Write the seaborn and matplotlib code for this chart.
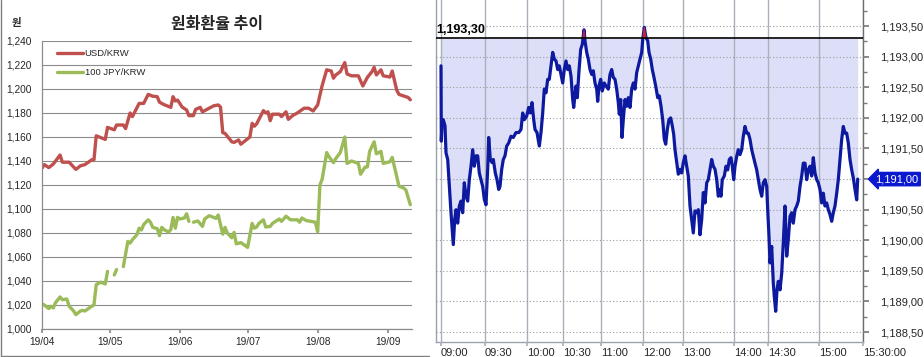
import numpy as np
import pandas as pd
import matplotlib
matplotlib.use("Agg")
import matplotlib.pyplot as plt
import matplotlib.dates as mdates
import matplotlib.transforms as mtransforms
from matplotlib.ticker import FuncFormatter, MultipleLocator
from matplotlib.lines import Line2D
import seaborn as sns

# ---------------- data: left chart (daily FX) ----------------
usd_dates = ["2019-04-01", "2019-04-02", "2019-04-04", "2019-04-06", "2019-04-09", "2019-04-10",
             "2019-04-13", "2019-04-16", "2019-04-18", "2019-04-20", "2019-04-23", "2019-04-24",
             "2019-04-25", "2019-04-29", "2019-04-30", "2019-05-03", "2019-05-04", "2019-05-07",
             "2019-05-08", "2019-05-10", "2019-05-11", "2019-05-14", "2019-05-16", "2019-05-18",
             "2019-05-20", "2019-05-22", "2019-05-23", "2019-05-25", "2019-05-28", "2019-05-29",
             "2019-05-30", "2019-05-31", "2019-06-02", "2019-06-04", "2019-06-05", "2019-06-07",
             "2019-06-08", "2019-06-10", "2019-06-11", "2019-06-14", "2019-06-16", "2019-06-18",
             "2019-06-19", "2019-06-20", "2019-06-21", "2019-06-24", "2019-06-25", "2019-06-27",
             "2019-06-28", "2019-06-30", "2019-07-02", "2019-07-03", "2019-07-04", "2019-07-05",
             "2019-07-08", "2019-07-09", "2019-07-10", "2019-07-11", "2019-07-12", "2019-07-15",
             "2019-07-16", "2019-07-18", "2019-07-19", "2019-07-21", "2019-07-23", "2019-07-26",
             "2019-07-28", "2019-07-30", "2019-08-01", "2019-08-03", "2019-08-05", "2019-08-07",
             "2019-08-08", "2019-08-09", "2019-08-11", "2019-08-13", "2019-08-14", "2019-08-16",
             "2019-08-19", "2019-08-21", "2019-08-23", "2019-08-25", "2019-08-26", "2019-08-27",
             "2019-08-29", "2019-08-30", "2019-09-02", "2019-09-03", "2019-09-05", "2019-09-06",
             "2019-09-09", "2019-09-10", "2019-09-11"]
usd_krw = [1134, 1137, 1134.5, 1137.5, 1145, 1139,
           1139, 1133, 1136, 1137, 1141, 1141,
           1161, 1158, 1168, 1166, 1170, 1170,
           1167, 1180, 1177, 1188, 1188, 1195.5,
           1194, 1193.6, 1189, 1187, 1184.7, 1193.6,
           1190, 1190.8, 1185, 1182.5, 1177.8, 1177.8,
           1183, 1184.7, 1181, 1184, 1186, 1186.7,
           1185, 1163.6, 1163, 1156, 1155.5, 1157.5,
           1154, 1157, 1160, 1171.4, 1169, 1171,
           1182, 1180, 1181, 1173.6, 1179, 1179,
           1177, 1181, 1174.7, 1178, 1180, 1184,
           1184, 1181.7, 1186.7, 1203, 1216, 1215,
           1209, 1211.7, 1214.4, 1222, 1212.5, 1211,
           1211, 1202.5, 1209.7, 1214.4, 1218, 1211.7,
           1216, 1211, 1210, 1215, 1199, 1195.5,
           1193.6, 1193, 1191]

jpy_dates = ["2019-04-01", "2019-04-02", "2019-04-04", "2019-04-05", "2019-04-06", "2019-04-07",
             "2019-04-09", "2019-04-10", "2019-04-12", "2019-04-13", "2019-04-15", "2019-04-16",
             "2019-04-18", "2019-04-19", "2019-04-20", "2019-04-23", "2019-04-24", "2019-04-25",
             "2019-04-27", "2019-04-29", "2019-04-30", "2019-05-02", "2019-05-03", "2019-05-04",
             "2019-05-06", "2019-05-07", "2019-05-09", "2019-05-10", "2019-05-11", "2019-05-13",
             "2019-05-14", "2019-05-15", "2019-05-16", "2019-05-18", "2019-05-19", "2019-05-20",
             "2019-05-22", "2019-05-23", "2019-05-24", "2019-05-25", "2019-05-27", "2019-05-28",
             "2019-05-29", "2019-05-30", "2019-05-31", "2019-06-01", "2019-06-03", "2019-06-04",
             "2019-06-05", "2019-06-06", "2019-06-07", "2019-06-09", "2019-06-11", "2019-06-12",
             "2019-06-14", "2019-06-16", "2019-06-17", "2019-06-18", "2019-06-20", "2019-06-21",
             "2019-06-22", "2019-06-24", "2019-06-25", "2019-06-26", "2019-06-28", "2019-06-30",
             "2019-07-01", "2019-07-03", "2019-07-04", "2019-07-05", "2019-07-06", "2019-07-08",
             "2019-07-09", "2019-07-11", "2019-07-12", "2019-07-15", "2019-07-16", "2019-07-18",
             "2019-07-20", "2019-07-23", "2019-07-24", "2019-07-25", "2019-07-27", "2019-07-29",
             "2019-07-31", "2019-08-01", "2019-08-02", "2019-08-03", "2019-08-05", "2019-08-06",
             "2019-08-08", "2019-08-09", "2019-08-11", "2019-08-13", "2019-08-14", "2019-08-16",
             "2019-08-19", "2019-08-20", "2019-08-22", "2019-08-23", "2019-08-24", "2019-08-26",
             "2019-08-27", "2019-08-29", "2019-08-30", "2019-09-02", "2019-09-03", "2019-09-06",
             "2019-09-08", "2019-09-09", "2019-09-11"]
jpy100_krw = [1021, 1020, 1017, 1019, 1017.5, 1022,
              1026.7, 1024.4, 1025, 1019, 1015, 1012,
              1015, 1015.5, 1015, 1019, 1020, 1037,
              1039, 1037.5, 1048, None, 1045, 1049.5,
              None, 1052, 1073, 1071.6, 1074.4, 1078.6,
              1084, 1082.5, 1087, 1091, 1089, 1084.7,
              1083.6, 1077.8, 1084.7, 1082.8, 1080.8, 1082.8,
              1093, 1084, 1093, 1091.7, 1092.5, 1096,
              1089.7, None, 1089, 1090, 1085.5, 1091.7,
              1094.4, 1093, 1092.2, 1095, 1079, 1084.7,
              1080, 1076, 1080.5, 1071, 1072, 1069.4,
              1068, 1088, 1084, 1085, 1088, 1091,
              1085, 1085.5, 1088, 1091.7, 1089.7, 1094,
              1091, 1091, 1089, 1092.5, 1090.3, 1089.7,
              1089, 1081, 1120, 1125, 1147, 1143.6,
              1138.6, 1142, 1147, 1160, 1138, 1140,
              1138, 1129, 1135, 1135, 1148, 1156,
              1146, 1148, 1138, 1139.4, 1143, 1119,
              1117.5, 1116, 1103.6]

series_names = ["USD/KRW", "100 JPY/KRW"]
y_ticks_left = list(range(1000, 1241, 20))

# ---------------- data: right chart (intraday USD/KRW) ----------------
intraday_pos = [0, 0.3, 1, 2.3, 4, 5, 6.7, 7.7, 9, 10, 11, 12.3, 13.7, 15, 16.7, 18.3, 20, 21.7, 23.3, 25,
                26.7, 28.3, 30, 31.7, 33.3, 35, 36.7, 38.3, 40, 41.7, 43.3, 45, 46.7, 47.7, 49.3, 51,
                52.3, 54.3, 56, 57.7, 59, 60.7, 62.3, 64, 65.7, 67.7, 70, 72.3, 75, 77.7, 80, 81.7,
                83.3, 85.7, 87.7, 89.3, 91, 92.7, 94, 96, 98.3, 100, 101.7, 103.3, 105, 106.7, 108.3,
                110, 111.7, 113.3, 115, 116.7, 118.3, 120, 121.7, 123.3, 125, 126.7, 128.3, 130,
                131.7, 132.7,
                135, 136.3, 138, 139.7, 141.3, 143, 144, 145.7, 147.3, 149, 150.7, 152.3, 154, 155.7,
                156.7, 158, 159.7, 161.3, 163.3, 165, 167.3, 169, 170.7, 172.3, 174, 175.7, 177.3,
                178.3, 179.7, 181, 182.3, 184, 185.7, 187.3, 189, 190.7, 192.3, 194, 195.7, 197.3,
                199, 200.7, 201.7, 203.3, 205, 206.7, 208, 209.7, 211.3, 213, 214.7, 216.7, 218.3,
                220, 221.7, 223.3, 224.7, 226.3, 228, 229.7, 231.3, 232.7, 234, 235.7, 237.3, 239,
                240.7, 242.3, 244, 245.7, 247.3, 249, 250.7, 252.3, 254, 255.7, 257.3, 259, 260.7,
                262.3, 264, 265.7, 267.3, 269, 270.7, 272.3, 274, 275.7, 277.3, 279,
                280, 281.3, 283.3, 285, 286.7, 288.3, 290, 291.3, 292.7, 294, 295.7, 297.3, 299,
                300.7, 302.3, 304, 305.7, 307.3, 309, 310.7, 312.3, 314, 315.7, 317.3, 319, 320.7,
                322.3, 324, 325.7, 326.7, 328, 329, 330.7, 332.3, 333.3, 334.7, 336, 337.3, 339,
                340.7, 342.3, 344, 345.7, 347.3, 349, 350.7, 352.3, 354, 355.7, 357.3, 359, 360.7,
                362.3, 364, 365.7, 367.3, 369, 370.7, 372.3, 374, 375.7, 377.3, 379, 380.7, 382.3,
                384, 385.7, 387.3, 389, 390.7, 392.3, 394, 395.7, 397.3, 399, 400.7, 402.3, 404,
                405.7, 407.3, 409, 410.7, 412.3, 414, 415.7, 416.7]
intraday_rate = [1192.85, 1191.62, 1191.92, 1191.97, 1191.87, 1191.43, 1191.32, 1191.05, 1190.72, 1190.45,
                 1190.23, 1189.93, 1190.34, 1190.50, 1190.28, 1190.56, 1190.64, 1190.45, 1190.94, 1190.72,
                 1190.64, 1190.99, 1191.21, 1191.48, 1191.21, 1191.38, 1191.38, 1191.10, 1190.99, 1190.88,
                 1190.67, 1190.58, 1191.16, 1191.68, 1191.32, 1191.27, 1191.32, 1191.10, 1190.99, 1190.83,
                 1190.88, 1191.16, 1191.32, 1191.38, 1191.54, 1191.59, 1191.70, 1191.68, 1191.76, 1191.76,
                 1191.81, 1192.08, 1191.97, 1192.03, 1192.17, 1192.08, 1192.25, 1191.97, 1191.81, 1191.76,
                 1191.54, 1191.76, 1192.08, 1192.47, 1192.41, 1192.63, 1192.63, 1192.85, 1193.07, 1192.96,
                 1192.93, 1192.79, 1192.85, 1192.71, 1192.57, 1192.79, 1192.93, 1192.79, 1192.85, 1192.68,
                 1192.30, 1192.17,
                 1192.52, 1192.33, 1192.77, 1193.12, 1193.20, 1193.44, 1193.26, 1193.07, 1192.96, 1192.79,
                 1192.71, 1192.77, 1192.57, 1192.47, 1192.27, 1192.52, 1192.63, 1192.44, 1192.57, 1192.52,
                 1192.47, 1192.71, 1192.79, 1192.66, 1192.63, 1192.47, 1192.25, 1192.06, 1192.30, 1191.68,
                 1191.97, 1192.30, 1192.19, 1192.33, 1192.17, 1192.47, 1192.57, 1192.47, 1192.74, 1192.85,
                 1192.96, 1193.07, 1193.28, 1193.48, 1193.31, 1193.26, 1193.07, 1192.96, 1192.79, 1192.66,
                 1192.52, 1192.33, 1192.36, 1192.19, 1191.97, 1191.65, 1191.57, 1191.81, 1191.97, 1192.00,
                 1191.87, 1191.73, 1191.48, 1191.27, 1191.08, 1191.16, 1191.10, 1191.27, 1191.38, 1191.21,
                 1191.05, 1190.56, 1190.34, 1190.12, 1190.48, 1190.45, 1190.50, 1190.09, 1190.34, 1190.78,
                 1190.61, 1190.94, 1190.99, 1191.16, 1191.32, 1191.21, 1191.16, 1190.99, 1190.72, 1190.83,
                 1190.72, 1190.99, 1191.05, 1191.21, 1191.15, 1191.32, 1191.35, 1191.21, 1190.99, 1191.21,
                 1191.37, 1191.48, 1191.40, 1191.48, 1191.70, 1191.86, 1191.75, 1191.75, 1191.65, 1191.48,
                 1191.37, 1191.26, 1191.15, 1190.99, 1190.83, 1190.72, 1190.94, 1190.99, 1190.88, 1190.50,
                 1190.06, 1189.63, 1189.90, 1189.30, 1189.08, 1188.84, 1189.19, 1189.33, 1189.19, 1189.46,
                 1189.96, 1190.56, 1189.74, 1190.01, 1190.39, 1190.45, 1190.28, 1190.50, 1190.56, 1190.64,
                 1190.88, 1191.05, 1191.26, 1191.26, 1190.99, 1191.15, 1191.21, 1191.05, 1191.35, 1191.10,
                 1190.99, 1190.94, 1190.83, 1190.61, 1190.77, 1190.56, 1190.61, 1190.50, 1190.42, 1190.31,
                 1190.45, 1190.56, 1190.77, 1190.99, 1191.32, 1191.65, 1191.86, 1191.75, 1191.75, 1191.59,
                 1191.32, 1191.15, 1191.02, 1190.83, 1190.66, 1191.00]
ref_level = 1193.30
last_rate = 1191.00
time_tick_pos = [0, 44, 86, 122, 160, 202, 242, 293, 327, 378, 422]
time_tick_labels = ["09:00", "09:30", "10:00", "10:30", "11:00", "12:00", "13:00",
                    "14:00", "14:30", "15:00", "15:30:00"]

# ---------------- style ----------------
sns.set_theme(style="white")
plt.rcParams['font.family'] = ['Liberation Sans', 'Noto Sans CJK KR', 'DejaVu Sans']
plt.rcParams['axes.unicode_minus'] = False

W, H = 924, 357
fig = plt.figure(figsize=(W / 100, H / 100), dpi=100)
fig.patch.set_facecolor('white')

RED = '#c0504d'
GREEN = '#9bbb59'

# ================= left chart =================
ax1 = fig.add_axes([42 / W, 28 / H, 370 / W, 288 / H])
df_usd = pd.DataFrame({"date": pd.to_datetime(usd_dates), "rate": usd_krw})
sns.lineplot(data=df_usd, x="date", y="rate", ax=ax1, color=RED, lw=2.4,
             label=series_names[0], estimator=None, sort=False)

df_jpy = pd.DataFrame({"date": pd.to_datetime(jpy_dates), "rate": jpy100_krw})
df_jpy["rate"] = pd.to_numeric(df_jpy["rate"])
seg = df_jpy["rate"].isna().cumsum()
first = True
for _, g in df_jpy.groupby(seg):
    g = g.dropna()
    if len(g) == 0:
        continue
    sns.lineplot(data=g, x="date", y="rate", ax=ax1, color=GREEN, lw=2.4,
                 label=series_names[1] if first else None, estimator=None, sort=False)
    first = False

ax1.set_ylim(1000, 1240)
ax1.set_xlim(pd.Timestamp("2019-04-01"), pd.Timestamp("2019-09-11 18:00"))
ax1.set_yticks(y_ticks_left)
ax1.yaxis.set_major_formatter(FuncFormatter(lambda v, p: f"{v:,.0f}"))
ax1.xaxis.set_major_locator(mdates.MonthLocator())
ax1.xaxis.set_major_formatter(mdates.DateFormatter("%y/%m"))
ax1.set_xlabel("")
ax1.set_ylabel("")
ax1.grid(axis='y', color='#8c8c8c', lw=0.8)
ax1.grid(axis='x', visible=False)
ax1.set_axisbelow(True)
for s in ['top', 'right']:
    ax1.spines[s].set_visible(False)
for s in ['left', 'bottom']:
    ax1.spines[s].set_color('#8c8c8c')
    ax1.spines[s].set_linewidth(0.9)
ax1.tick_params(axis='x', length=3, color='#8c8c8c', labelsize=7.3, pad=3, direction='out', bottom=True)
ax1.tick_params(axis='y', length=0, labelsize=7.3, pad=7.5)
leg = ax1.legend(loc='upper left', bbox_to_anchor=(0.04, 0.972), frameon=False, fontsize=6.8,
                 handlelength=2.75, handletextpad=0.2, labelspacing=1.1, borderpad=0,
                 borderaxespad=0)

fig.text(217 / W, 1 - 24 / H, "원화환율 추이", ha='center', va='center', fontsize=11.5,
         fontweight='bold', family=['Noto Sans CJK KR'])
fig.text(16 / W, 1 - 23 / H, "원", ha='center', va='center', fontsize=7.5,
         fontweight='bold', family=['Noto Sans CJK KR'])
# frame of left panel
fig.add_artist(Line2D([0.6 / W, 0.6 / W], [1, 1.2 / H], color='#7f7f7f', lw=1, transform=fig.transFigure))
fig.add_artist(Line2D([0.6 / W, 429 / W], [1.2 / H, 1.2 / H], color='#7f7f7f', lw=1, transform=fig.transFigure))

# ================= right chart =================
ax2 = fig.add_axes([436 / W, 15 / H, 427 / W, 342 / H])
x = np.array(intraday_pos)
y = np.array(intraday_rate)
ax2.set_xlim(-5, 422)
ax2.set_ylim(1188.338, 1193.926)

ax2.fill_between(x, y, ref_level, color='#dcdff7', lw=0, zorder=1)
for p in time_tick_pos:
    ax2.axvline(p, color='#a9b0bb', lw=1.0, zorder=1.5)
ax2.grid(axis='y', linestyle=(0, (1, 2)), color='#9a9a9a', lw=0.8)
ax2.grid(axis='x', visible=False)
ax2.set_axisbelow(False)
for gl in ax2.get_ygridlines():
    gl.set_zorder(1.6)

sns.lineplot(x=x, y=y, ax=ax2, color='#0d1aa0', lw=2.3, estimator=None, sort=False, zorder=3)
ax2.fill_between(x, ref_level, y, where=y > ref_level, interpolate=True, color='#c8262b',
                 lw=0.8, edgecolor='#c8262b', zorder=4)
ax2.axhline(ref_level, color='black', lw=1.2, zorder=5)
ax2.text(-4.5, ref_level + 0.03, f"{ref_level:,.2f}".replace('.', ','), ha='left', va='bottom',
         fontsize=9, fontweight='bold', color='black', zorder=6)

ax2.yaxis.tick_right()
ax2.set_yticks(np.arange(1188.5, 1193.51, 0.5))
ax2.yaxis.set_minor_locator(MultipleLocator(0.25))
ax2.yaxis.set_major_formatter(FuncFormatter(
    lambda v, p: "" if abs(v - last_rate) < 1e-6 else f"{v:,.2f}".replace('.', ',')))
ax2.tick_params(axis='y', which='major', right=True, left=False, length=4, color='#7a7a7a',
                labelsize=8, pad=8, direction='out')
ax2.tick_params(axis='y', which='minor', right=True, left=False, length=3, color='#7a7a7a',
                direction='out')
ax2.set_xticks(time_tick_pos)
ax2.set_xticklabels(time_tick_labels)
for lbl in ax2.get_xticklabels():
    lbl.set_horizontalalignment('left')
ax2.tick_params(axis='x', length=3, color='#a9b0bb', labelsize=8, pad=1, direction='out', bottom=True)
ax2.spines['top'].set_visible(False)
ax2.spines['left'].set_color('#9aa2ad')
ax2.spines['bottom'].set_color('#9aa2ad')
ax2.spines['right'].set_color('#6e6e6e')
for s in ['left', 'bottom', 'right']:
    ax2.spines[s].set_linewidth(1.0)
ax2.set_xlabel("")
ax2.set_ylabel("")

trans = mtransforms.blended_transform_factory(ax2.transAxes, ax2.transData)
ax2.annotate(f"{last_rate:,.2f}".replace('.', ','), xy=(1.0, last_rate), xycoords=trans,
             xytext=(9, 0), textcoords='offset points', ha='left', va='center', color='white',
             fontsize=8, annotation_clip=False, zorder=10,
             bbox=dict(boxstyle='larrow,pad=0.15', fc='#0a18d0', ec='#0a18d0'))

fig.savefig("out.png", dpi=100, facecolor='white')
